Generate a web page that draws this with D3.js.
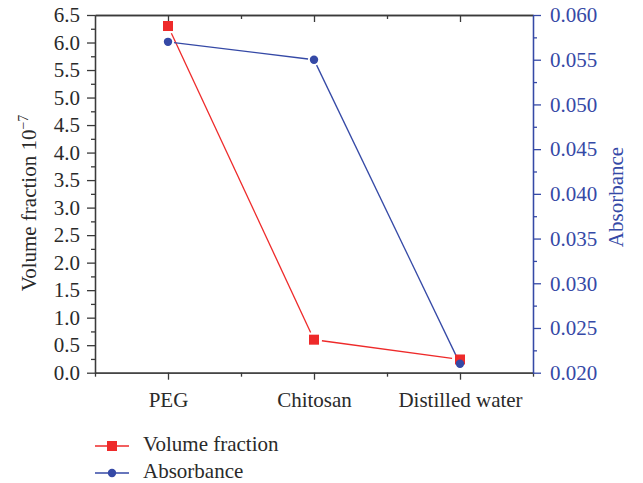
<!DOCTYPE html>
<html><head><meta charset="utf-8">
<script src="https://cdn.jsdelivr.net/npm/d3@7"></script>
<style>body{margin:0;background:#fff}svg{display:block}text{font-family:"Liberation Serif",serif}</style>
</head><body>
<svg id="c" width="643" height="483"></svg>
<script>
const categories = ["PEG", "Chitosan", "Distilled water"];
const volumeFraction = [6.30, 0.60, 0.24];
const absorbance = [0.057, 0.055, 0.021];
const leftTicks = [0,0.5,1,1.5,2,2.5,3,3.5,4,4.5,5,5.5,6,6.5];
const rightTicks = [0.020,0.025,0.030,0.035,0.040,0.045,0.050,0.055,0.060];
const seriesNames = ["Volume fraction", "Absorbance"];

const RED = "#ee2a2a", BLUE = "#3549a6", AX = "#3a3a3a";
const m = {l:95, r:533, t:15, b:372.7};
const svg = d3.select("#c");
const x = d3.scaleLinear().domain([0.5, 3.5]).range([m.l, m.r]);
const yL = d3.scaleLinear().domain([0, 6.5]).range([m.b, m.t]);
const yR = d3.scaleLinear().domain([0.02, 0.06]).range([m.b, m.t]);
const fs = 21;

// bottom axis
const gB = svg.append("g").attr("transform", `translate(0,${m.b})`);
gB.call(d3.axisBottom(x).tickValues([1,2,3]).tickSize(7).tickSizeOuter(0).tickPadding(12)
  .tickFormat(d => categories[d-1]));
gB.append("g").call(d3.axisBottom(x).tickValues([0.5,1.5,2.5,3.5]).tickSize(4).tickSizeOuter(0).tickFormat(""));
// top axis (inward ticks)
const gT = svg.append("g").attr("transform", `translate(0,${m.t})`);
gT.call(d3.axisBottom(x).tickValues([1,2,3]).tickSize(7).tickSizeOuter(0).tickFormat(""));
gT.append("g").call(d3.axisBottom(x).tickValues([1.5,2.5]).tickSize(4).tickSizeOuter(0).tickFormat(""));
// left axis
const gL = svg.append("g").attr("transform", `translate(${m.l},0)`);
gL.call(d3.axisLeft(yL).tickValues(leftTicks).tickSize(8).tickSizeOuter(0).tickPadding(7).tickFormat(d3.format(".1f")));
gL.append("g").call(d3.axisLeft(yL).tickValues(leftTicks.slice(0,-1).map(v=>v+0.25)).tickSize(4).tickSizeOuter(0).tickFormat(""));
// right axis
const gR = svg.append("g").attr("transform", `translate(${m.r},0)`);
gR.call(d3.axisRight(yR).tickValues(rightTicks).tickSize(8).tickSizeOuter(0).tickPadding(9).tickFormat(d3.format(".3f")));
gR.append("g").call(d3.axisRight(yR).tickValues(rightTicks.slice(0,-1).map(v=>v+0.0025)).tickSize(4).tickSizeOuter(0).tickFormat(""));

[gB,gT,gL].forEach(g => {
  g.selectAll("path,line").attr("stroke", AX).attr("stroke-width", 1.3);
  g.selectAll("text").attr("fill", "#2a2a2a").style("font-size", fs+"px").style("font-family","Liberation Serif");
});
gR.selectAll("path,line").attr("stroke", BLUE).attr("stroke-width", 1.3);
gR.selectAll("text").attr("fill", BLUE).style("font-size", fs+"px").style("font-family","Liberation Serif");

// axis titles
const tl = svg.append("text").attr("transform", `translate(36,203) rotate(-90)`)
  .attr("text-anchor","middle").attr("fill","#2a2a2a").style("font-size", fs+"px");
tl.append("tspan").text("Volume fraction 10");
tl.append("tspan").attr("dy",-8).style("font-size","14px").text("\u22127");
svg.append("text").attr("transform", `translate(623,197) rotate(-90)`)
  .attr("text-anchor","middle").attr("fill",BLUE).style("font-size", fs+"px").text("Absorbance");

// lines with gaps around markers
function gapLine(pts, color, gap) {
  for (let i=0;i<pts.length-1;i++){
    const [x1,y1]=pts[i],[x2,y2]=pts[i+1];
    const L=Math.hypot(x2-x1,y2-y1), ux=(x2-x1)/L, uy=(y2-y1)/L;
    svg.append("line").attr("x1",x1+ux*gap).attr("y1",y1+uy*gap)
      .attr("x2",x2-ux*gap).attr("y2",y2-uy*gap).attr("stroke",color).attr("stroke-width",1.3);
  }
}
const vPts = volumeFraction.map((v,i)=>[x(i+1), yL(v)]);
const aPts = absorbance.map((v,i)=>[x(i+1), yR(v)]);
gapLine(vPts, RED, 8);
gapLine(aPts, BLUE, 6);
svg.selectAll(".sq").data(vPts).enter().append("rect")
  .attr("x",d=>d[0]-5).attr("y",d=>d[1]-5).attr("width",10).attr("height",10).attr("fill",RED);
svg.selectAll(".ci").data(aPts).enter().append("circle")
  .attr("cx",d=>d[0]).attr("cy",d=>d[1]).attr("r",4.2).attr("fill",BLUE);

// legend
const leg = [{c:RED, s:"sq", y:446}, {c:BLUE, s:"ci", y:473}];
leg.forEach((l,i) => {
  svg.append("line").attr("x1",95).attr("x2",129).attr("y1",l.y).attr("y2",l.y).attr("stroke",l.c).attr("stroke-width",1.3);
  if (l.s==="sq") svg.append("rect").attr("x",107).attr("y",l.y-5).attr("width",10).attr("height",10).attr("fill",l.c);
  else svg.append("circle").attr("cx",112).attr("cy",l.y).attr("r",4.2).attr("fill",l.c);
  svg.append("text").attr("x",143).attr("y",l.y+5).attr("fill","#2a2a2a").style("font-size",fs+"px").text(seriesNames[i]);
});
</script>
</body></html>
